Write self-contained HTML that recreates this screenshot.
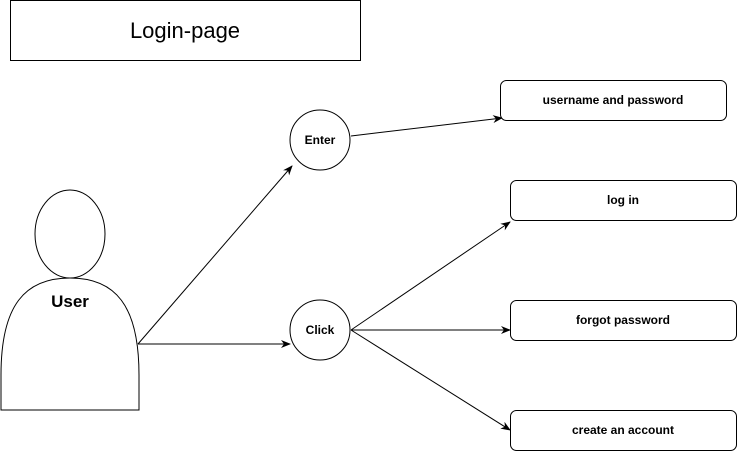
<!DOCTYPE html>
<html><head><style>body{margin:0;background:#fff}svg{display:block}</style></head><body>
<svg width="737" height="452" xmlns="http://www.w3.org/2000/svg" font-family="Liberation Sans, Arial, sans-serif">
<defs><marker id="a" markerWidth="10" markerHeight="8" refX="9" refY="4" orient="auto" markerUnits="userSpaceOnUse"><path d="M0,0 L10,4 L0,8 L3,4 Z" fill="#000"/></marker></defs>
<rect x="10.5" y="0.5" width="350" height="60" fill="#fff" stroke="#000"/>
<text x="185" y="38" font-size="22" text-anchor="middle">Login-page</text>
<ellipse cx="70" cy="234" rx="35" ry="44" fill="#fff" stroke="#000"/>
<path d="M1,410 L1,375 C1,305 25,278 70,278 C115,278 139,305 139,375 L139,410 Z" fill="#fff" stroke="#000"/>
<text x="70" y="307" font-size="17" font-weight="bold" text-anchor="middle">User</text>
<g stroke="#000" fill="none">
<line x1="138" y1="344" x2="292" y2="166" marker-end="url(#a)"/>
<line x1="138" y1="344" x2="290" y2="344" marker-end="url(#a)"/>
<line x1="351" y1="136" x2="502" y2="118" marker-end="url(#a)"/>
<line x1="351" y1="330" x2="510" y2="222" marker-end="url(#a)"/>
<line x1="351" y1="330" x2="510" y2="330" marker-end="url(#a)"/>
<line x1="351" y1="330" x2="510" y2="430" marker-end="url(#a)"/>
</g>
<circle cx="320" cy="140" r="30" fill="#fff" stroke="#000"/>
<circle cx="320" cy="330" r="30" fill="#fff" stroke="#000"/>
<g font-size="12" font-weight="bold" text-anchor="middle">
<text x="320" y="144">Enter</text>
<text x="320" y="334">Click</text>
</g>
<g fill="#fff" stroke="#000">
<rect x="500.5" y="80.5" width="226" height="40" rx="6"/>
<rect x="510.5" y="180.5" width="226" height="40" rx="6"/>
<rect x="510.5" y="300.5" width="226" height="40" rx="6"/>
<rect x="510.5" y="410.5" width="226" height="40" rx="6"/>
</g>
<g font-size="12" font-weight="bold" text-anchor="middle">
<text x="613" y="104">username and password</text>
<text x="623" y="204">log in</text>
<text x="623" y="324">forgot password</text>
<text x="623" y="434">create an account</text>
</g>
</svg>
</body></html>
